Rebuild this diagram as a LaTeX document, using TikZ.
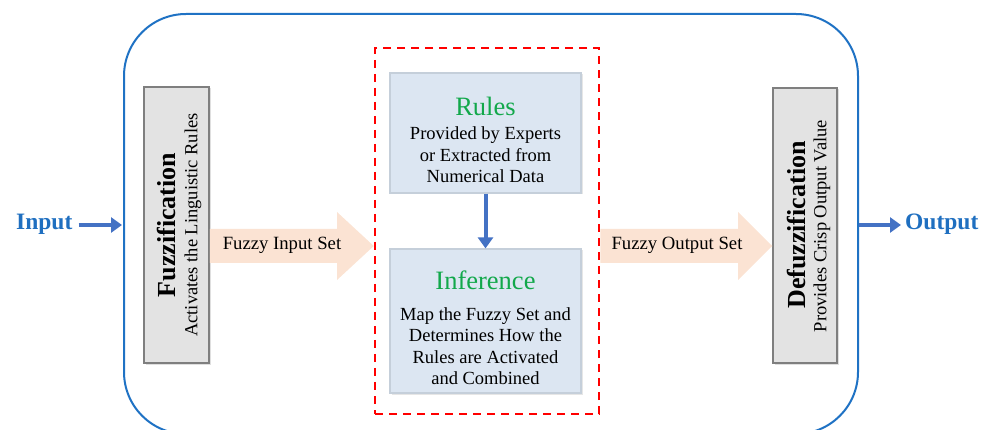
\documentclass[tikz,border=0pt]{standalone}
\usepackage{fontspec}
\setmainfont{Liberation Serif}
\usetikzlibrary{arrows.meta,shadows}
\definecolor{frameblue}{HTML}{1F72C4}
\definecolor{textblue}{HTML}{1F6FC0}
\definecolor{arrblue}{HTML}{4472C4}
\definecolor{peach}{HTML}{FBE3D3}
\definecolor{boxblue}{HTML}{DCE6F2}
\definecolor{boxblueline}{HTML}{C5CFDA}
\definecolor{graybox}{HTML}{E3E3E3}
\definecolor{grayline}{HTML}{7F7F7F}
\definecolor{rulegreen}{HTML}{12A84B}
\tikzset{
  grayblk/.style={draw=grayline, line width=1.5pt, fill=graybox, inner sep=0pt,
    drop shadow={shadow xshift=1.5pt, shadow yshift=-1.5pt, opacity=0.25}},
  blueblk/.style={draw=boxblueline, line width=1.2pt, fill=boxblue, inner sep=0pt,
    drop shadow={shadow xshift=1.5pt, shadow yshift=-1.5pt, opacity=0.2}},
  fatarrow/.style={fill=peach, draw=none},
  bluearr/.style={-{Triangle[length=11pt,width=15pt]}, arrblue, line width=4pt},
  io/.style={text=textblue, font=\fontsize{23.5}{28}\selectfont\bfseries},
  body/.style={font=\fontsize{18.5}{21.5}\selectfont, align=center},
  head/.style={text=rulegreen, font=\fontsize{26.5}{30}\selectfont},
  vtitle/.style={rotate=90, font=\fontsize{26}{30}\selectfont\bfseries, inner sep=0pt},
  vsub/.style={rotate=90, font=\fontsize{18.5}{22}\selectfont, inner sep=0pt},
  arrlabel/.style={font=\fontsize{18.7}{22}\selectfont}
}
\begin{document}
\begin{tikzpicture}[x=1pt,y=-1pt]
\useasboundingbox (0,0) rectangle (988,430);
% outer frame
\draw[frameblue, line width=2pt, rounded corners=62pt] (124,14) rectangle (858,434);
% red dashed group
\node[draw=red, line width=2.5pt, dash pattern=on 8pt off 6pt, minimum width=224pt, minimum height=366pt, inner sep=0pt] (grp) at (487,231) {};
% boxes
\node[grayblk, minimum width=65pt, minimum height=276pt] (fuz) at (176.5,225) {};
\node[grayblk, minimum width=64pt, minimum height=275pt] (defuz) at (805,225.5) {};
\node[blueblk, minimum width=191pt, minimum height=120pt] (rules) at (485.5,133) {};
\node[blueblk, minimum width=191pt, minimum height=144pt] (inf) at (485.5,321) {};
% texts in boxes
\node[vtitle] (fuzt) at (167,225) {Fuzzification};
\node[vsub] (fuzs) at (193,225) {Activates the Linguistic Rules};
\node[vtitle] (deft) at (796,225) {Defuzzification};
\node[vsub] (defs) at (822,226) {Provides Crisp Output Value};
\node[head] (rulest) at (485.5,106) {Rules};
\node[body] (rulesb) at (485.5,155) {Provided by Experts\\or Extracted from\\Numerical Data};
\node[head] (inft) at (485.5,280) {Inference};
\node[body] (infb) at (485.5,346) {Map the Fuzzy Set and\\Determines How the\\Rules are Activated\\and Combined};
% fat arrows
\coordinate (fintip) at (grp.west |- 0,246);
\coordinate (fouttip) at (defuz.west |- 0,246);
\fill[fatarrow] (fuz.east |- 0,229) -- (337,229) -- (337,212) -- (fintip) -- (337,280) -- (337,263) -- (fuz.east |- 0,263) -- cycle;
\fill[fatarrow] (grp.east |- 0,229) -- (738,229) -- (738,212) -- (fouttip) -- (738,280) -- (738,263) -- (grp.east |- 0,263) -- cycle;
\node[arrlabel] (finl) at (282,245) {Fuzzy Input Set};
\node[arrlabel] (foutl) at (677,245) {Fuzzy Output Set};
% rules -> inference
\draw[bluearr] (rules.south) -- (inf.north);
% input / output
\node[io, anchor=west, inner sep=0pt] (in) at (16,224) {Input};
\node[io, anchor=west, inner sep=0pt] (out) at (905,224) {Output};
\coordinate (inend) at (122,225);
\coordinate (outstart) at (859,225);
\draw[bluearr] ([xshift=6pt]in.east |- inend) -- (inend);
\draw[bluearr] (outstart) -- ([xshift=-4pt]out.west |- outstart);
\end{tikzpicture}
\end{document}
